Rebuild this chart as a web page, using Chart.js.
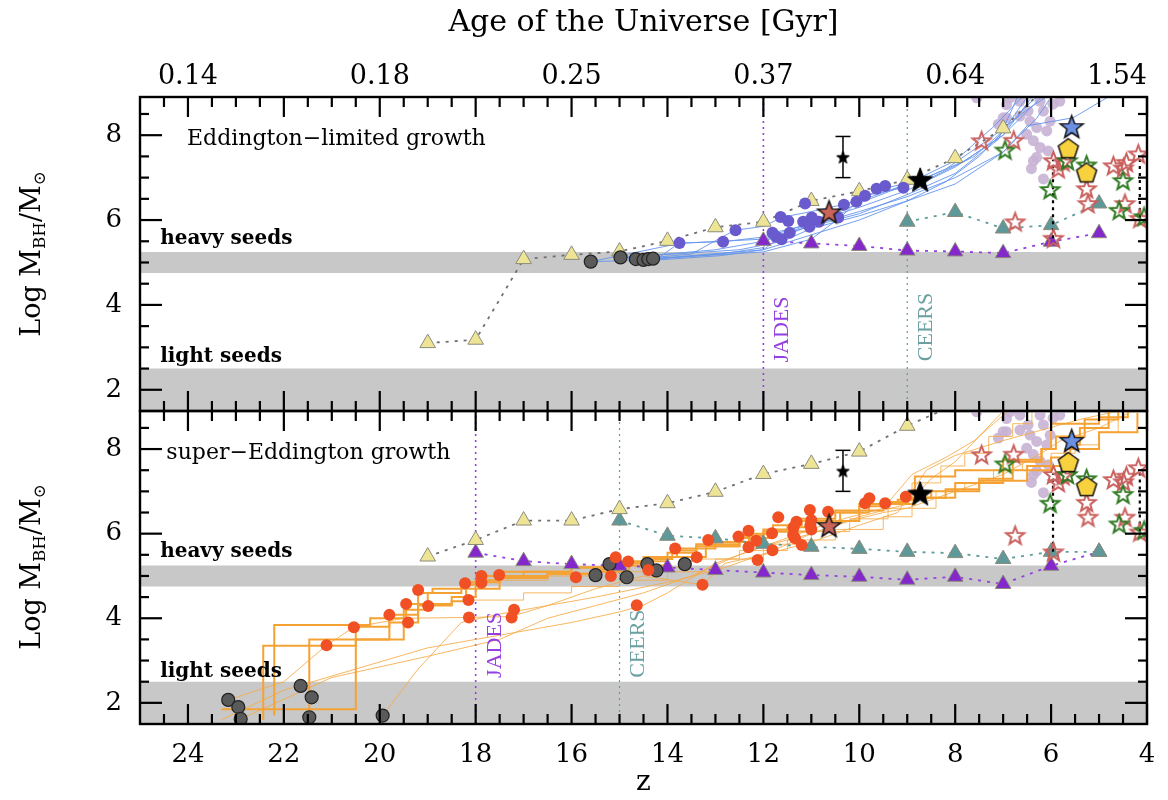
<!DOCTYPE html>
<html>
<head>
<meta charset="utf-8">
<script src="https://cdn.jsdelivr.net/npm/chart.js@4.4.1/dist/chart.umd.min.js"></script>
<style>
  html, body { margin: 0; padding: 0; background: #fff; }
  #wrap { position: relative; width: 1168px; height: 800px; overflow: hidden; }
  #wrap canvas { position: absolute; left: 0; }
  .ytitle { position: absolute; left: 32px; transform: translate(-50%, -50%) rotate(-90deg);
            font: 27px "DejaVu Serif"; white-space: nowrap; color: #000; }
  .ytitle sub { font-size: 62%; vertical-align: -0.3em; }
</style>
</head>
<body>
<div id="wrap">
  <canvas id="topChart" width="1168" height="413" style="top:0"></canvas>
  <canvas id="botChart" width="1168" height="391" style="top:409px"></canvas>
  <div class="ytitle" style="top:254px">Log M<sub>BH</sub>/M<sub>⊙</sub></div>
  <div class="ytitle" style="top:567px">Log M<sub>BH</sub>/M<sub>⊙</sub></div>
</div>
<script>
// ---- axes ----
const zTicks = [4, 6, 8, 10, 12, 14, 16, 18, 20, 22, 24];
const zMinorTicks = [4.5, 5, 5.5, 6.5, 7, 7.5, 8.5, 9, 9.5, 10.5, 11, 11.5, 12.5, 13, 13.5, 14.5, 15, 15.5,
  16.5, 17, 17.5, 18.5, 19, 19.5, 20.5, 21, 21.5, 22.5, 23, 23.5, 24.5];
const ageTickZ = [4, 8, 12, 16, 20, 24, 25];
const ageTickLabels = ['1.54', '0.64', '0.37', '0.25', '0.18', '0.14', ''];
const massTicks = [2, 4, 6, 8];
const massMinorTicks = [2.5, 3, 3.5, 4.5, 5, 5.5, 6.5, 7, 7.5, 8.5];
const heavySeedBand = [4.75, 5.25];
const lightSeedBand = [1.5, 2.5];

// ---- survey redshifts ----
const jadesZTop = 12, ceersZTop = 9;
const jadesZBot = 18, ceersZBot = 15;

// ---- top panel: Eddington-limited ----
const yellowTopZ = [19, 18, 17, 16, 15, 14, 13, 12, 11, 10, 9, 8, 7, 6];
const yellowTopM = [3.1, 3.18, 5.08, 5.18, 5.26, 5.51, 5.83, 5.96, 6.45, 6.68, 6.95, 7.46, 8.16, 9.25];
const tealTopZ = [9, 8, 7, 6, 5];
const tealTopM = [5.96, 6.19, 5.8, 5.88, 6.39];
const purpleTopZ = [12, 11, 10, 9, 8, 7, 6, 5];
const purpleTopM = [5.51, 5.45, 5.39, 5.28, 5.26, 5.22, 5.49, 5.69];
const greyTopZ = [15.6, 14.98, 14.66, 14.5, 14.4, 14.3];
const greyTopM = [5.02, 5.12, 5.08, 5.06, 5.08, 5.09];
const blueDotZ = [13.75, 12.84, 12.58, 11.81, 11.64, 11.48, 11.74, 11.62, 11.45, 11.13, 11.17, 11.04, 10.99, 10.84, 10.44, 10.32, 10.06, 9.88, 9.64, 9.46, 9.08];
const blueDotM = [5.46, 5.49, 5.76, 5.70, 6.07, 5.98, 5.61, 5.55, 5.70, 6.39, 5.96, 5.84, 6.06, 5.96, 6.06, 6.36, 6.43, 6.57, 6.74, 6.80, 6.76];
const blueTrackZ = [
  [15.6, 14.2, 12.9, 12.0, 11.0, 10.0, 9.0, 8.0, 7.0, 6.5, 5.54, 4.84],
  [15.0, 14.2, 13.75, 12.84, 12.0, 11.5, 11.0, 10.0, 9.0, 8.0, 7.0, 6.4],
  [14.66, 13.5, 12.6, 12.0, 11.6, 11.0, 10.0, 9.0, 8.0, 7.2, 6.6],
  [14.5, 12.9, 12.0, 11.8, 11.0, 10.3, 9.5, 8.7, 7.8, 7.0, 6.2],
  [14.4, 12.0, 11.0, 10.4, 9.9, 9.1, 8.2, 7.3, 6.5, 6.1],
  [14.3, 12.0, 11.7, 11.1, 10.0, 9.0, 8.0, 7.0, 6.3, 6.0],
  [15.6, 13.75, 12.9, 12.0, 11.0, 10.0, 9.0, 8.0, 7.1, 6.7],
  [15.0, 13.0, 12.0, 11.5, 10.8, 10.0, 9.2, 8.5, 7.6, 7.0, 6.5],
  [14.98, 12.5, 11.6, 11.0, 10.0, 9.0, 8.2, 7.5, 6.9, 6.5, 6.3]
];
const blueTrackM = [
  [5.02, 5.06, 5.16, 5.3, 5.65, 6.0, 6.45, 6.85, 7.6, 8.22, 8.41, 8.88],
  [5.1, 5.1, 5.46, 5.49, 5.6, 5.75, 5.95, 6.3, 6.7, 7.25, 8.0, 8.9],
  [5.08, 5.2, 5.76, 5.85, 6.07, 6.2, 6.45, 6.85, 7.4, 8.2, 8.9],
  [5.06, 5.2, 5.35, 5.7, 5.9, 6.36, 6.74, 6.95, 7.4, 8.0, 8.9],
  [5.08, 5.25, 5.55, 6.06, 6.57, 6.76, 7.2, 7.9, 8.6, 8.9],
  [5.09, 5.3, 5.55, 5.84, 6.2, 6.55, 7.0, 7.6, 8.4, 8.9],
  [5.02, 5.45, 5.5, 5.55, 5.85, 6.15, 6.6, 7.1, 7.9, 8.9],
  [5.1, 5.3, 5.5, 5.7, 6.0, 6.4, 6.75, 7.0, 7.5, 8.1, 8.9],
  [5.12, 5.3, 5.5, 5.8, 6.1, 6.45, 6.9, 7.5, 8.2, 8.7, 8.9]
];

// ---- bottom panel: super-Eddington ----
const yellowBotZ = [19, 18, 17, 16, 15, 14, 13, 12, 11, 10, 9, 8];
const yellowBotM = [5.46, 5.85, 6.31, 6.31, 6.58, 6.72, 6.99, 7.41, 7.65, 7.94, 8.55, 9.05];
const tealBotZ = [15, 14, 13, 12, 11, 10, 9, 8, 7, 6, 5];
const tealBotM = [6.31, 5.95, 5.89, 5.76, 5.69, 5.64, 5.57, 5.54, 5.40, 5.57, 5.57];
const purpleBotZ = [18, 17, 16, 15, 14, 13, 12, 11, 10, 9, 8, 7, 6, 5];
const purpleBotM = [5.55, 5.35, 5.28, 5.24, 5.20, 5.14, 5.08, 5.02, 4.98, 4.91, 4.98, 4.81, 5.24, 5.57];
const greyBotZ = [23.16, 22.95, 22.9, 21.65, 21.42, 21.47, 19.94, 15.5, 15.21, 14.85, 14.42, 14.23, 13.64];
const greyBotM = [2.07, 1.9, 1.62, 2.4, 2.13, 1.66, 1.7, 5.02, 5.28, 4.97, 5.28, 5.13, 5.28];
const redDotZ = [21.11, 20.54, 19.8, 19.41, 19.45, 19.2, 18.99, 18.22, 18.15, 18.14, 17.88, 17.88, 17.51, 17.2, 17.25,
  15.91, 15.18, 15.08, 14.82, 14.64, 14.4, 13.84, 13.39, 13.27, 13.15, 12.52, 12.31, 12.31, 12.15, 12.12,
  11.82, 11.81, 11.69, 11.37, 11.31, 11.34, 11.2, 11.03, 11.02, 11.0, 10.65, 9.88, 9.79, 9.46, 9.03, 11.38, 11.0];
const redDotM = [3.36, 3.79, 4.08, 3.9, 4.34, 4.67, 4.29, 4.83, 4.43, 4.02, 5.0, 4.84, 5.02, 4.2, 4.02,
  4.97, 5.0, 5.44, 5.34, 4.31, 5.14, 5.65, 5.44, 4.79, 5.85, 5.93, 6.07, 5.68, 5.83, 5.38,
  6.01, 5.61, 6.39, 6.15, 6.28, 5.89, 5.73, 6.56, 6.2, 6.1, 6.52, 6.72, 6.84, 6.72, 6.87, 5.97, 6.32];
const orangeThickZ = [
  [23.3, 20.5, 20.5, 19.5, 19.45, 18.5, 18.2, 17.5, 16.5, 15.5, 15, 14.3, 13.9, 13.4, 12.5, 12.0, 11.5, 11.0, 10.0, 9.5, 8.84, 8.84, 8.0, 7.0, 6.2, 6.0, 6.0, 5.0, 4.4],
  [22.43, 22.43, 20.9, 20.5, 19.8, 19.2, 18.9, 18, 17.5, 16, 15, 14, 13.4, 12.5, 12, 11.3, 10.5, 10, 9.5, 9, 8.0, 7.0, 6.0, 5.6, 5.4, 4.8],
  [22.2, 22.2, 20.6, 20.2, 19.5, 19.0, 18.3, 17.8, 17.0, 16.0, 15.2, 14.5, 13.8, 13.0, 12.3, 11.8, 11.2, 10.6, 10.0, 9.2, 8.8, 8.2, 7.5, 6.8, 6.2, 5.9, 5.3, 4.6],
  [21.47, 21.47, 20.5, 19.8, 19.2, 18.5, 18.0, 17.5, 16.5, 15.5, 14.8, 14.0, 13.2, 12.5, 11.8, 11.0, 10.4, 9.8, 9.0, 8.5, 7.5, 6.5, 5.7, 5.0, 4.2]
];
const orangeThickM = [
  [1.85, 1.85, 3.5, 3.9, 4.34, 4.4, 4.85, 5.0, 5.05, 5.15, 5.3, 5.4, 5.6, 5.7, 5.9, 6.05, 6.15, 6.3, 6.55, 6.7, 6.8, 7.35, 7.5, 7.75, 8.0, 8.37, 8.6, 8.75, 8.88],
  [1.6, 3.35, 3.35, 3.8, 4.08, 4.6, 4.7, 4.9, 5.1, 5.2, 5.35, 5.55, 5.75, 5.95, 6.1, 6.35, 6.55, 6.65, 6.75, 6.85, 7.2, 7.5, 7.8, 8.1, 8.5, 8.9],
  [1.7, 3.84, 3.84, 4.0, 4.2, 4.6, 4.8, 5.0, 5.1, 5.2, 5.3, 5.45, 5.65, 5.8, 6.0, 6.2, 6.3, 6.5, 6.7, 6.8, 6.85, 7.05, 7.3, 7.7, 8.0, 8.3, 8.7, 8.9],
  [1.66, 3.5, 3.5, 3.9, 4.3, 4.5, 4.7, 4.95, 5.05, 5.1, 5.25, 5.45, 5.7, 5.9, 6.05, 6.3, 6.5, 6.7, 6.85, 7.0, 7.25, 7.6, 8.0, 8.4, 8.85]
];
const orangeThinZ = [
  [23.3, 22.0, 20.5, 19.0, 17.5, 16.0, 15.0, 14.5, 14.0, 13.0, 12.0, 11.0, 10.0, 9.0, 8.5, 8.0, 7.5, 7.0],
  [22.9, 21.0, 19.0, 17.5, 16.5, 15.5, 14.5, 13.5, 12.5, 11.5, 10.5, 9.5, 8.9, 8.2, 7.6, 7.2, 6.9],
  [19.94, 19.2, 18.3, 17.5, 16.5, 15.5, 14.64, 13.8, 12.8, 11.8, 11.0, 10.2, 9.5, 9.0, 8.0, 7.0, 6.2, 5.8, 5.0, 4.3],
  [23.16, 22.0, 21.11, 20.54, 19.5, 18.14, 17.26, 16.5, 15.5, 14.5, 13.27, 12.8, 12.0, 11.0, 10.0, 9.2, 8.6, 8.0, 7.0, 6.2, 5.4, 4.6]
];
const orangeThinM = [
  [1.6, 2.3, 2.8, 3.3, 3.6, 3.9, 4.15, 4.31, 4.6, 5.3, 5.7, 6.0, 6.4, 6.7, 7.3, 7.7, 8.3, 8.9],
  [1.62, 2.6, 3.1, 3.5, 4.0, 4.3, 4.6, 5.0, 5.5, 5.9, 6.3, 6.6, 7.4, 7.8, 8.2, 8.6, 8.9],
  [1.7, 2.8, 3.9, 4.1, 4.3, 4.5, 4.7, 4.9, 5.2, 5.6, 6.0, 6.3, 6.5, 6.6, 7.0, 7.4, 7.9, 8.2, 8.5, 8.9],
  [2.07, 2.5, 3.36, 3.79, 4.0, 4.02, 4.04, 4.3, 4.7, 5.0, 4.79, 5.3, 5.5, 5.8, 6.2, 6.5, 7.5, 7.85, 8.2, 8.45, 8.7, 8.9]
];
const orangeStepZ = [
  [18.2, 17.0, 16.0, 15.0, 14.0, 13.0, 12.0, 11.0, 10.2, 9.4, 8.9, 8.3, 7.8, 7.3, 6.8, 6.4],
  [17.5, 16.5, 15.5, 14.5, 13.5, 12.5, 11.5, 10.5, 9.5, 8.9, 8.4, 7.8, 7.2, 6.6, 6.0, 5.5, 5.0, 4.6]
];
const orangeStepM = [
  [4.43, 4.6, 4.75, 4.9, 5.1, 5.4, 5.75, 6.05, 6.35, 6.6, 7.2, 7.6, 7.9, 8.3, 8.6, 8.9],
  [4.9, 5.0, 5.1, 5.2, 5.4, 5.6, 5.85, 6.1, 6.4, 6.6, 7.0, 7.2, 7.5, 7.7, 7.9, 8.1, 8.4, 8.7]
];

// ---- observed sources (same in both panels) ----
const lavZ = [7.55, 7.10, 6.93, 6.86, 6.65, 6.48, 6.37, 6.30, 6.41, 6.16, 6.23, 6.09, 6.02, 6.30, 6.16, 5.96, 5.82, 6.44, 6.65, 6.23, 6.06, 6.51, 7.0, 6.93, 6.37];
const lavM = [8.88, 8.26, 8.41, 8.88, 8.80, 8.57, 7.87, 7.48, 7.21, 6.97, 7.71, 8.10, 8.33, 8.18, 8.57, 8.73, 8.80, 8.33, 8.45, 8.80, 7.63, 8.02, 8.41, 8.72, 7.39];
const redStarZ = [7.45, 6.78, 5.95, 5.85, 5.75, 4.70, 4.43, 4.18, 5.26, 5.23, 4.46, 4.15, 6.75, 5.95, 4.49];
const redStarM = [7.87, 7.88, 7.40, 7.21, 7.37, 7.28, 7.36, 7.56, 6.74, 6.39, 6.39, 6.04, 5.96, 5.57, 7.23];
const greenStarZ = [6.96, 6.02, 5.66, 5.26, 4.50, 4.58, 4.06];
const greenStarM = [7.65, 6.72, 7.40, 7.30, 6.93, 6.23, 6.08];
const linkZ = [5.96, 4.15];
const linkLo = [5.57, 6.05];
const linkHi = [7.42, 7.52];
const smallStar = { z: 10.34, m: 7.48, lo: 7.0, hi: 7.97 };
const bigStar = { z: 8.73, m: 6.95 };
const roseStar = { z: 10.63, m: 6.19 };
const blueStar = { z: 5.57, m: 8.2 };
const pentZ = [5.64, 5.26];
const pentM = [7.67, 7.10];

const Z_MIN = 4, Z_MAX = 25, M_MIN = 1.5, M_MAX = 8.9;

const pts = (zs, ms) => zs.map((z, i) => ({ x: z, y: ms[i] }));

function polyImg(n, R, inner, fill, stroke, lw) {
  const s = Math.ceil(2 * R + 2 * lw + 4);
  const c = document.createElement('canvas');
  c.width = c.height = s;
  const g = c.getContext('2d');
  const k = inner ? 2 * n : n;
  g.beginPath();
  for (let i = 0; i < k; i++) {
    const r = inner && i % 2 ? R * inner : R;
    const a = -Math.PI / 2 + i * 2 * Math.PI / k;
    g.lineTo(s / 2 + r * Math.cos(a), s / 2 + r * Math.sin(a) + (inner ? R * 0.08 : 0));
  }
  g.closePath();
  if (fill) { g.fillStyle = fill; g.fill(); }
  if (stroke) { g.lineWidth = lw; g.strokeStyle = stroke; g.lineJoin = 'miter'; g.stroke(); }
  return c;
}

const imgBig = polyImg(5, 13, 0.42, '#000', '#000', 1);
const imgRose = polyImg(5, 12, 0.42, '#c86458', '#111', 1.5);
const imgSmall = polyImg(5, 6.5, 0.42, '#000', '#000', 1);
const imgBlue = polyImg(5, 12, 0.42, '#6b8fe3', '#111', 1.5);
const imgPent = polyImg(5, 10.5, 0, '#f8d23e', '#111', 1.5);
const imgRed = polyImg(5, 9.5, 0.42, null, '#c9605e', 2);
const imgGreen = polyImg(5, 9.5, 0.42, null, '#2f7a22', 2);

function band(lo, hi) {
  return { data: [{ x: Z_MAX, y: hi }, { x: Z_MIN, y: hi }], fill: lo <= M_MIN ? 'start' : { value: lo },
    backgroundColor: '#c8c8c8', borderWidth: 0, pointRadius: 0, order: 50 };
}
function vline(z, color, width) {
  return { data: [{ x: z, y: M_MIN }, { x: z, y: M_MAX }], borderColor: color, borderWidth: width,
    borderDash: [2, 4], pointRadius: 0, order: 45 };
}
function tri(zs, ms, fill, lineColor) {
  return { data: pts(zs, ms), borderColor: lineColor, borderWidth: 1.8, borderDash: [3, 6],
    pointStyle: 'triangle', pointRadius: 9, pointBackgroundColor: fill, pointBorderColor: '#8c8c7c',
    pointBorderWidth: 1, order: 30 };
}
function dots(zs, ms, fill, r, border, order) {
  return { data: pts(zs, ms), showLine: false, pointRadius: r, pointBackgroundColor: fill,
    pointBorderColor: border || fill, pointBorderWidth: border ? 1.2 : 0, order: order };
}
function marks(zs, ms, img, order) {
  return { data: pts(zs, ms), showLine: false, pointStyle: img, order: order };
}
function tracks(zList, mList, color, width, stepped, order) {
  return zList.map((zs, i) => ({ data: pts(zs, mList[i]), borderColor: color, borderWidth: width,
    stepped: stepped, pointRadius: 0, order: order }));
}

// inward tick marks: each one a short two-point line dataset, clipped to the plot area
function tickMarks() {
  const out = [];
  const seg = (a, b, w) => out.push({ data: [a, b], borderColor: '#000', borderWidth: w,
    pointRadius: 0, clip: false, order: 0 });
  const dz = 20 / 47.95, dm = 1 / 42.4;
  zTicks.concat(zMinorTicks).forEach(v => {
    const len = zTicks.includes(v) ? 20 : 10;
    seg({ x: v, y: M_MAX }, { x: v, y: M_MAX - len * dm }, 2.2);
    seg({ x: v, y: M_MIN }, { x: v, y: M_MIN + len * dm }, 2.2);
  });
  massTicks.concat(massMinorTicks).forEach(v => {
    const len = massTicks.includes(v) ? 22 : 9;
    seg({ x: Z_MAX, y: v }, { x: Z_MAX - len * dz / 20, y: v }, 2.2);
    seg({ x: Z_MIN, y: v }, { x: Z_MIN + len * dz / 20, y: v }, 2.2);
  });
  return out;
}

function observed() {
  const out = [];
  out.push(dots(lavZ, lavM, 'rgba(200,178,212,0.9)', 5.5, null, 42));
  linkZ.forEach((z, i) => out.push({ data: [{ x: z, y: linkLo[i] }, { x: z, y: linkHi[i] }],
    borderColor: '#000', borderWidth: 2.2, borderDash: [3, 4], pointRadius: 0, order: 22 }));
  out.push(marks(redStarZ, redStarM, imgRed, 20));
  out.push(marks(greenStarZ, greenStarM, imgGreen, 19));
  out.push({ data: [{ x: smallStar.z, y: smallStar.lo }, { x: smallStar.z, y: smallStar.hi }],
    borderColor: '#000', borderWidth: 1.5, pointStyle: 'line', pointRadius: 7.5,
    pointBorderColor: '#000', pointBorderWidth: 1.5, order: 15 });
  out.push(marks([smallStar.z], [smallStar.m], imgSmall, 14));
  out.push(marks([roseStar.z], [roseStar.m], imgRose, 10));
  out.push(marks([bigStar.z], [bigStar.m], imgBig, 10));
  out.push(marks([blueStar.z], [blueStar.m], imgBlue, 10));
  out.push(marks(pentZ, pentM, imgPent, 9));
  return out;
}

const SERIF = '"DejaVu Serif", "Liberation Serif", serif';

const frame = {
  id: 'frame',
  afterDraw(chart) {
    const { ctx, chartArea: a } = chart;
    ctx.save();
    ctx.strokeStyle = '#000';
    ctx.lineWidth = 2.4;
    ctx.strokeRect(a.left, a.top, a.right - a.left, a.bottom - a.top);
    ctx.restore();
  }
};

function panelText(items) {
  return {
    id: 'panelText',
    afterDatasetsDraw(chart) {
      const { ctx, scales: { x, y } } = chart;
      items.forEach(t => {
        ctx.save();
        ctx.font = t.font;
        ctx.fillStyle = t.color || '#000';
        ctx.translate(x.getPixelForValue(t.z) + (t.dx || 0), y.getPixelForValue(t.m));
        if (t.rot) { ctx.rotate(-Math.PI / 2); ctx.textAlign = 'center'; } else { ctx.textAlign = 'left'; }
        ctx.textBaseline = 'alphabetic';
        ctx.fillText(t.text, 0, 0);
        ctx.restore();
      });
    }
  };
}

function yScale() {
  return {
    type: 'linear', min: M_MIN, max: M_MAX,
    grid: { display: false }, border: { display: false },
    afterBuildTicks: s => { s.ticks = massTicks.map(v => ({ value: v })); },
    afterFit: s => { s.width = 140; s.paddingTop = 0; s.paddingBottom = 0; },
    ticks: { font: { family: SERIF, size: 26 }, color: '#000', padding: 10 }
  };
}

function baseOptions(xScale, padding) {
  return {
    responsive: false, animation: false, events: [],
    layout: { padding: padding, autoPadding: false },
    plugins: { legend: { display: false }, tooltip: { enabled: false } },
    scales: { x: xScale, y: yScale() }
  };
}

// ---- top chart ----
const topDatasets = [
  band(heavySeedBand[0], heavySeedBand[1]),
  band(lightSeedBand[0], lightSeedBand[1]),
  vline(jadesZTop, '#9440e0', 1.6),
  vline(ceersZTop, '#5f9c9c', 1.2),
  ...tracks(blueTrackZ, blueTrackM, 'rgba(100,149,237,0.9)', 1, false, 40),
  tri(yellowTopZ, yellowTopM, '#eee496', '#707070'),
  tri(tealTopZ, tealTopM, '#5f9898', '#5f9c9c'),
  tri(purpleTopZ, purpleTopM, '#8428cc', '#9440e0'),
  dots(greyTopZ, greyTopM, '#5a5a5a', 6.5, '#222', 25),
  dots(blueDotZ, blueDotM, '#695acd', 6, null, 24),
  ...observed(),
  ...tickMarks()
];

new Chart(document.getElementById('topChart'), {
  type: 'line',
  data: { datasets: topDatasets },
  options: baseOptions({
    type: 'linear', position: 'top', min: Z_MIN, max: Z_MAX, reverse: true,
    grid: { display: false }, border: { display: false },
    afterBuildTicks: s => { s.ticks = ageTickZ.map(v => ({ value: v })); },
    afterFit: s => { s.height = 97; s.paddingLeft = 0; s.paddingRight = 0; },
    ticks: { font: { family: SERIF, size: 27 }, color: '#000', padding: -4, maxRotation: 0, autoSkip: false,
      align: 'inner', callback: v => ageTickLabels[ageTickZ.indexOf(v)] },
    title: { display: true, text: 'Age of the Universe [Gyr]', color: '#000',
      font: { family: SERIF, size: 30 }, padding: { top: 5, bottom: 0 } }
  }, { left: 0, right: 21, top: 0, bottom: 2 }),
  plugins: [frame, panelText([
    { text: 'Eddington\u2212limited growth', z: 24.02, m: 7.77, font: `22px ${SERIF}` },
    { text: 'heavy seeds', z: 24.58, m: 5.44, font: `bold 20px ${SERIF}` },
    { text: 'light seeds', z: 24.58, m: 2.66, font: `bold 20px ${SERIF}` },
    { text: 'JADES', z: jadesZTop, dx: 25, m: 3.42, rot: true, color: '#9440e0', font: '22px "Liberation Serif"' },
    { text: 'CEERS', z: ceersZTop, dx: 25, m: 3.48, rot: true, color: '#6aa0a0', font: '22px "Liberation Serif"' }
  ])]
});

// ---- bottom chart ----
const botDatasets = [
  band(heavySeedBand[0], heavySeedBand[1]),
  band(lightSeedBand[0], lightSeedBand[1]),
  vline(jadesZBot, '#9440e0', 1.6),
  vline(ceersZBot, '#5f9c9c', 1.2),
  ...tracks(orangeThinZ, orangeThinM, 'rgba(246,170,70,0.85)', 1, false, 41),
  ...tracks(orangeStepZ, orangeStepM, 'rgba(246,170,70,0.85)', 1, true, 41),
  ...tracks(orangeThickZ, orangeThickM, '#f5a235', 2, true, 40),
  tri(yellowBotZ, yellowBotM, '#eee496', '#707070'),
  tri(tealBotZ, tealBotM, '#5f9898', '#5f9c9c'),
  tri(purpleBotZ, purpleBotM, '#8428cc', '#9440e0'),
  dots(greyBotZ, greyBotM, '#5a5a5a', 6.5, '#222', 25),
  dots(redDotZ, redDotM, '#f05023', 6, null, 24),
  ...observed(),
  ...tickMarks()
];

new Chart(document.getElementById('botChart'), {
  type: 'line',
  data: { datasets: botDatasets },
  options: baseOptions({
    type: 'linear', position: 'bottom', min: Z_MIN, max: Z_MAX, reverse: true,
    grid: { display: false }, border: { display: false },
    afterBuildTicks: s => { s.ticks = zTicks.map(v => ({ value: v })); },
    afterFit: s => { s.height = 76; s.paddingLeft = 0; s.paddingRight = 0; },
    ticks: { font: { family: SERIF, size: 26 }, color: '#000', padding: 8, maxRotation: 0, autoSkip: false },
    title: { display: true, text: 'z', color: '#000', font: { family: SERIF, size: 28 }, padding: { top: 0, bottom: 0 } }
  }, { left: 0, right: 21, top: 2, bottom: 0 }),
  plugins: [frame, panelText([
    { text: 'super\u2212Eddington growth', z: 24.45, m: 7.77, font: `22px ${SERIF}` },
    { text: 'heavy seeds', z: 24.58, m: 5.44, font: `bold 20px ${SERIF}` },
    { text: 'light seeds', z: 24.58, m: 2.62, font: `bold 20px ${SERIF}` },
    { text: 'JADES', z: jadesZBot, dx: 25, m: 3.37, rot: true, color: '#9440e0', font: '22px "Liberation Serif"' },
    { text: 'CEERS', z: ceersZBot, dx: 24, m: 3.4, rot: true, color: '#6aa0a0', font: '22px "Liberation Serif"' }
  ])]
});
</script>
</body>
</html>
